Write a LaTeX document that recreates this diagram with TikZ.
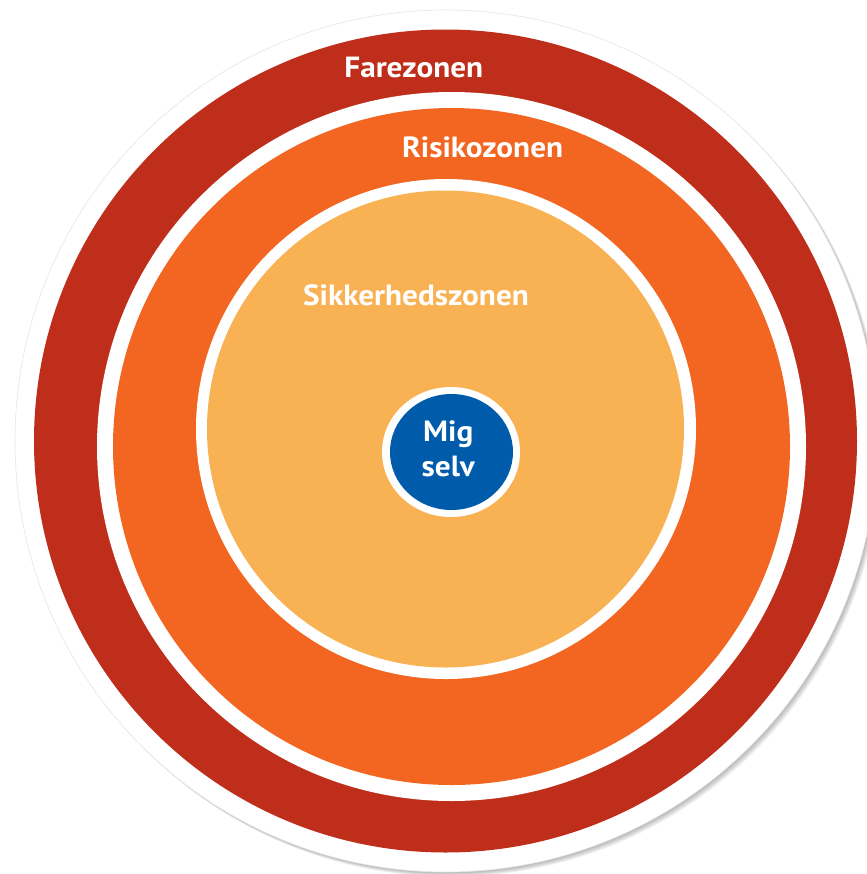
\documentclass[tikz,border=0pt]{standalone}
\usepackage{fontspec}
\setmainfont{PT Sans}[FakeStretch=1.07]
\definecolor{farered}{RGB}{191,46,26}
\definecolor{risikoorange}{RGB}{242,102,34}
\definecolor{sikkerorange}{RGB}{249,178,83}
\definecolor{migblue}{RGB}{0,91,170}

\begin{document}
\begin{tikzpicture}[x=0.5pt,y=-0.5pt,
		zonelabel/.style={text=white,font=\bfseries\fontsize{14.6}{17}\selectfont,inner sep=0pt,anchor=base west},
		miglabel/.style={zonelabel,anchor=base}]
			%%%%% START %%%%%
			\useasboundingbox (0,0) rectangle (867,874);
			
			\foreach \s in {1,...,6}
				\fill[black,opacity=0.05] (446+\s*0.8, 441+\s*0.8) circle (431);
			\draw[fill=white, draw=black!10, line width=0.3pt] (446, 441) circle (431);
			
			\fill[farered] (445.5, 441) circle (411.5);
			\fill[white] (451.5, 446.5) circle (354.5);
			\fill[risikoorange] (451.5, 446.5) circle (338.5);
			\fill[white] (446, 429) circle (250);
			\fill[sikkerorange] (445.5, 429) circle (238.5);
			
			\fill[white] (451, 452) ellipse (69 and 65);
			\fill[migblue] (451.5, 452) ellipse (61.5 and 58);
			
			\node[zonelabel] (fare) at (344, 77.7) {Farezonen};
			\node[zonelabel] (risiko) at (401.7, 157.7) {Risikozonen};
			\node[zonelabel] (sikker) at (302.7, 305) {Sikkerhedszonen};
			
			\node[miglabel] (mig) at (448.3, 441.7) {Mig};
			\node[miglabel] (selv) at (448.3, 476.7) {selv};
			%%%%% END %%%%%
\end{tikzpicture}
\end{document}
